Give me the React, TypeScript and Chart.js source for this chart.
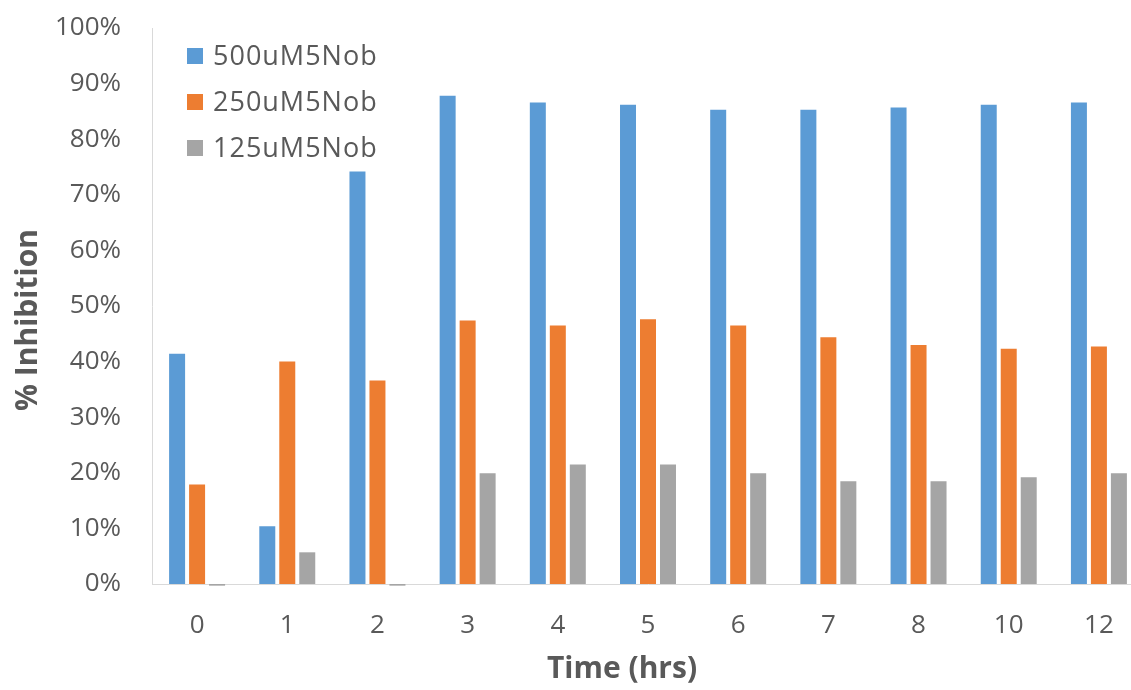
import React, { useEffect, useRef } from "react";
import { Chart, registerables } from "chart.js";

Chart.register(...registerables);

const categories = ["0", "1", "2", "3", "4", "5", "6", "7", "8", "10", "12"];
const series500 = [41.4, 10.4, 74.2, 87.8, 86.6, 86.2, 85.3, 85.3, 85.7, 86.2, 86.6];
const series250 = [17.9, 40.0, 36.6, 47.4, 46.5, 47.6, 46.5, 44.4, 43.0, 42.3, 42.7];
const series125 = [-0.3, 5.7, -0.3, 19.9, 21.5, 21.5, 19.9, 18.5, 18.5, 19.2, 19.9];
const seriesLabels = ["500uM5Nob", "250uM5Nob", "125uM5Nob"];
const seriesColors = ["#5B9BD5", "#ED7D31", "#A5A5A5"];
const xTitle = "Time (hrs)";
const yTitle = "% Inhibition";

const TEXT = "#595959";
const FONT = '"Open Sans", "DejaVu Sans", sans-serif';

const insideLegend = {
  id: "insideLegend",
  afterDraw(chart: any) {
    const { ctx, chartArea } = chart;
    ctx.save();
    ctx.font = `27px ${FONT}`;
    try {
      (ctx as any).letterSpacing = "1px";
    } catch (e) {}
    ctx.textBaseline = "middle";
    ctx.textAlign = "left";
    chart.data.datasets.forEach((ds: any, i: number) => {
      const y = chartArea.top + 28 + i * 46;
      const x = chartArea.left + 35;
      ctx.fillStyle = ds.backgroundColor;
      ctx.fillRect(x, y - 8, 16, 16);
      ctx.fillStyle = TEXT;
      ctx.fillText(ds.label, x + 26, y + 1);
    });
    ctx.restore();
  },
};

const axisTitles = {
  id: "axisTitles",
  afterDraw(chart: any) {
    const { ctx, chartArea } = chart;
    ctx.save();
    ctx.font = `bold 30px ${FONT}`;
    ctx.fillStyle = TEXT;
    ctx.textAlign = "center";
    ctx.textBaseline = "middle";
    ctx.fillText(xTitle, chartArea.left + 470, chartArea.bottom + 85);
    ctx.translate(chartArea.left - 124, chartArea.top + 292);
    ctx.rotate(-Math.PI / 2);
    ctx.fillText(yTitle, 0, 0);
    ctx.restore();
  },
};

function zeroPad(scale: any) {
  scale.paddingLeft = 0;
  scale.paddingRight = 0;
  scale.paddingTop = 0;
  scale.paddingBottom = 0;
}

export default function App() {
  const ref = useRef<HTMLCanvasElement | null>(null);

  useEffect(() => {
    if (!ref.current) return;
    const values = [series500, series250, series125];
    const chart = new Chart(ref.current, {
      type: "bar",
      data: {
        labels: categories,
        datasets: values.map((v, i) => ({
          label: seriesLabels[i],
          data: v,
          backgroundColor: seriesColors[i],
          borderWidth: 0,
          barPercentage: 0.8,
          categoryPercentage: 0.665,
          clip: false as any,
        })),
      },
      options: {
        animation: false,
        responsive: false,
        devicePixelRatio: 1,
        layout: { padding: { left: 6, right: 16, top: 28, bottom: 0 } },
        plugins: {
          legend: { display: false },
          tooltip: { enabled: false },
        },
        scales: {
          x: {
            grid: { display: false, drawTicks: false },
            border: { display: true, color: "#D9D9D9", width: 1 },
            ticks: {
              color: TEXT,
              font: { family: FONT, size: 26 },
              padding: 26,
              maxRotation: 0,
            },
            title: { display: false },
            afterFit(scale: any) {
              scale.height = 106;
              zeroPad(scale);
            },
          },
          y: {
            min: 0,
            max: 100,
            grid: { display: false, drawTicks: false },
            border: { display: true, color: "#D9D9D9", width: 1 },
            ticks: {
              stepSize: 10,
              color: TEXT,
              font: { family: FONT, size: 26 },
              padding: 31,
              callback: (v: any) => `${v}%`,
            },
            title: { display: false },
            afterFit(scale: any) {
              scale.width = 146;
              zeroPad(scale);
            },
          },
        },
      },
      plugins: [insideLegend, axisTitles],
    });
    return () => chart.destroy();
  }, []);

  return (
    <div
      style={{
        position: "absolute",
        left: 0,
        top: 0,
        width: 1131,
        height: 690,
        overflow: "hidden",
        background: "#fff",
      }}
    >
      <canvas ref={ref} width={1160} height={690} style={{ width: 1160, height: 690, display: "block" }} />
    </div>
  );
}
